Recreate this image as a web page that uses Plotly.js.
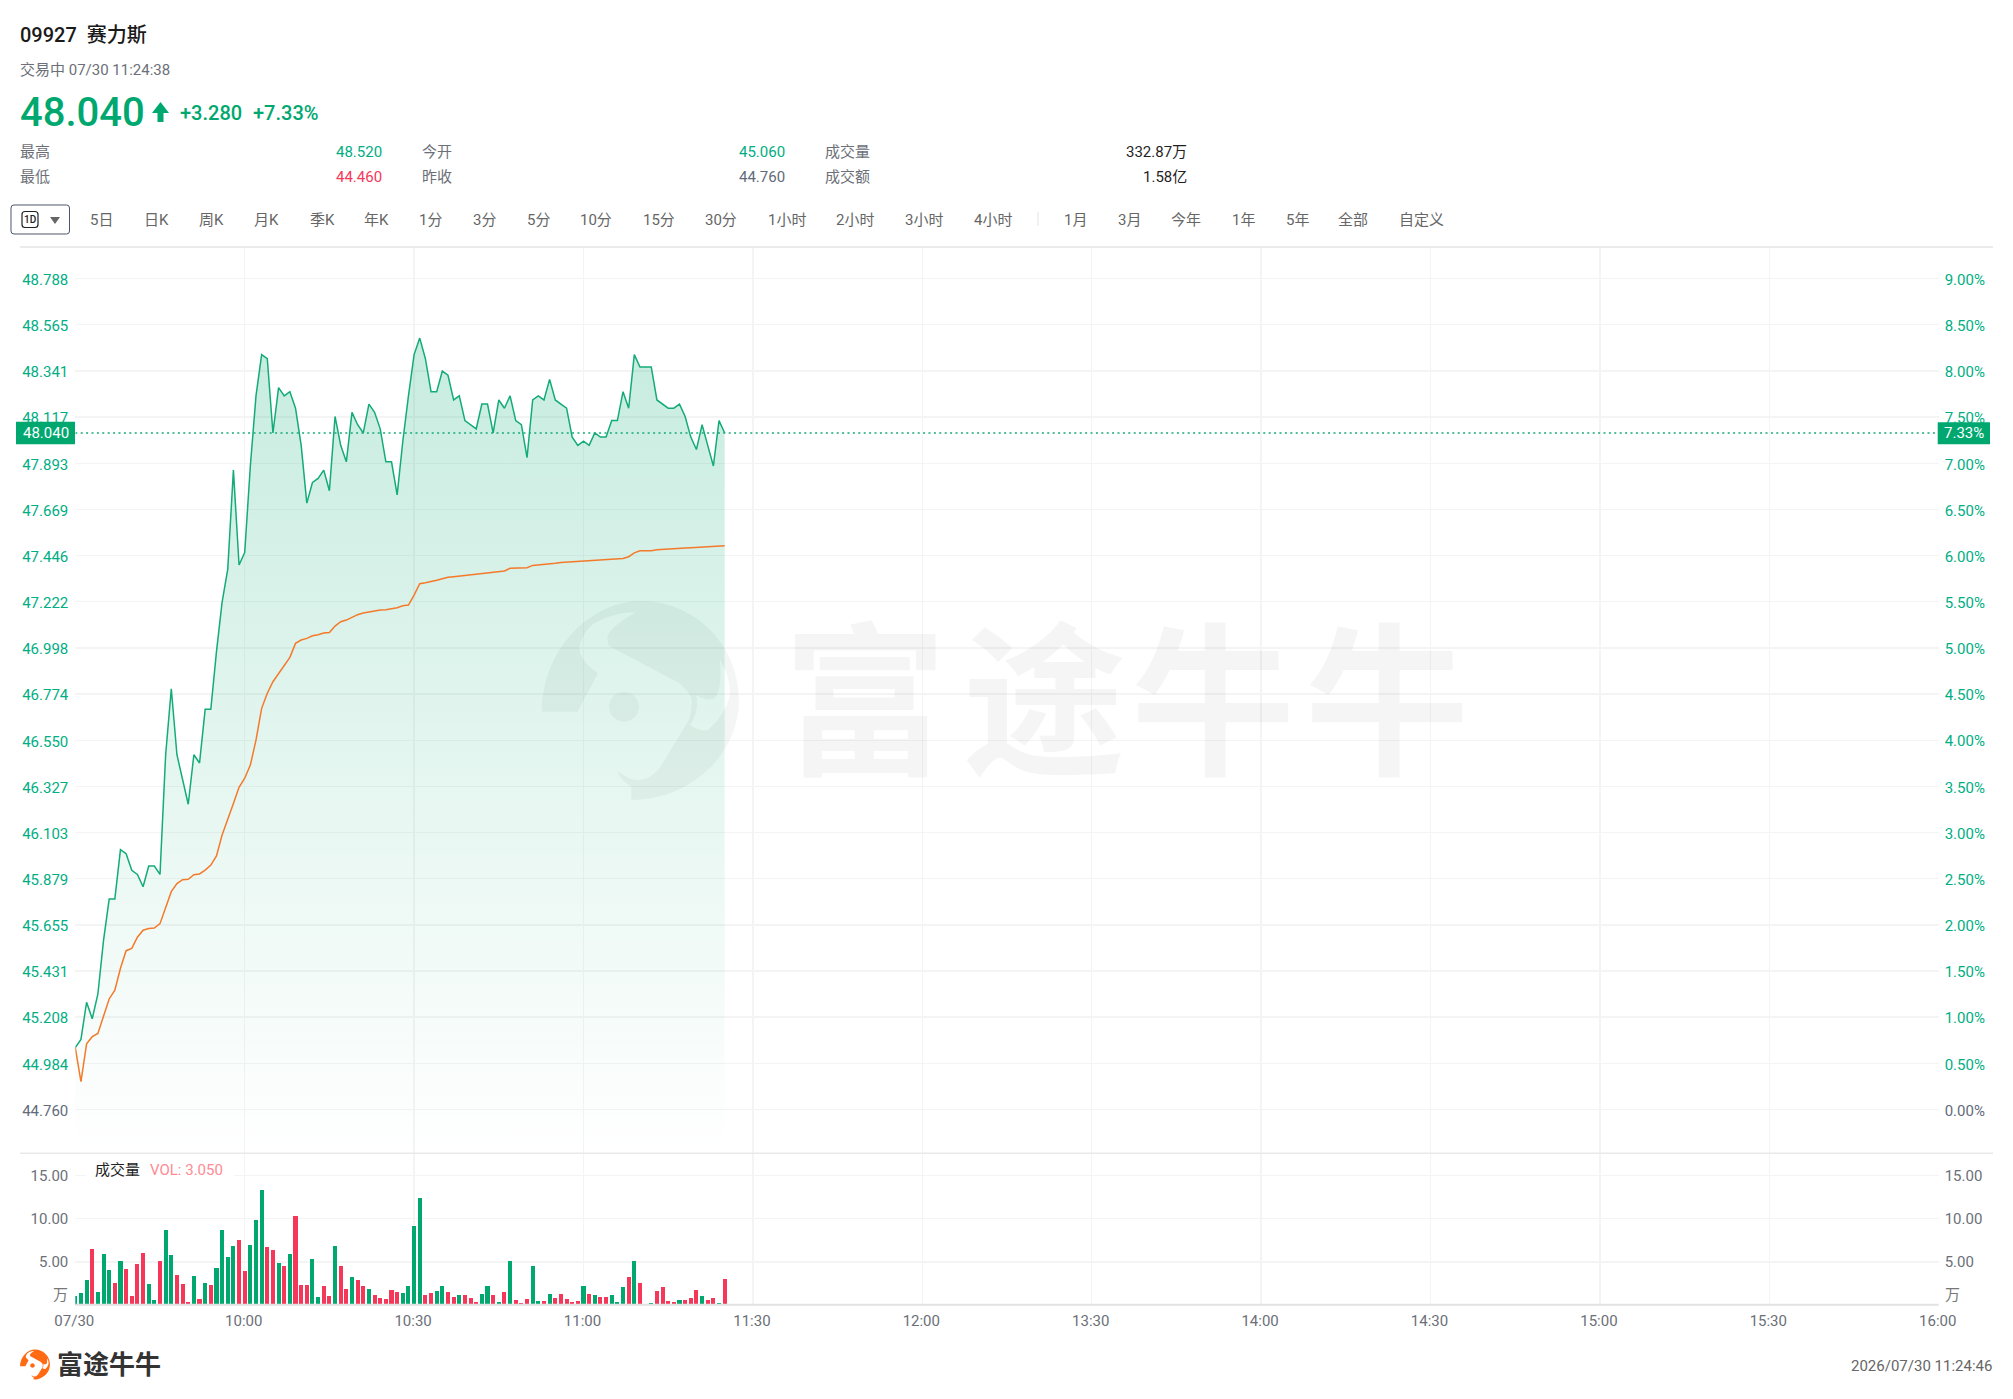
<!DOCTYPE html>
<html>
<head>
<meta charset="utf-8">
<title>09927 赛力斯</title>
<script src="https://cdn.plot.ly/plotly-3.0.1.min.js"></script>
<style>html,body{margin:0;padding:0;background:#fff}#chart{width:2013px;height:1399px}</style>
</head>
<body>
<div id="chart"></div>
<script>
const closePrices = [45.06,45.10,45.28,45.20,45.32,45.58,45.78,45.78,46.02,46.00,45.92,45.90,45.84,45.94,45.94,45.90,46.48,46.80,46.48,46.36,46.24,46.48,46.44,46.70,46.70,46.98,47.22,47.38,47.86,47.40,47.46,47.88,48.22,48.42,48.40,48.04,48.26,48.22,48.24,48.16,47.98,47.70,47.80,47.82,47.86,47.76,48.12,47.98,47.90,48.14,48.08,48.04,48.18,48.14,48.06,47.90,47.90,47.74,48.00,48.22,48.42,48.50,48.40,48.24,48.24,48.34,48.32,48.20,48.22,48.10,48.08,48.06,48.18,48.18,48.04,48.20,48.16,48.22,48.10,48.08,47.92,48.20,48.22,48.20,48.30,48.20,48.18,48.16,48.02,47.98,48.00,47.98,48.04,48.02,48.02,48.10,48.10,48.24,48.16,48.42,48.36,48.36,48.36,48.20,48.18,48.16,48.16,48.18,48.12,48.02,47.96,48.08,47.98,47.88,48.10,48.04];
const avgPrices = [45.06,44.895,45.078,45.113,45.129,45.21,45.296,45.339,45.445,45.53,45.541,45.595,45.629,45.637,45.64,45.661,45.735,45.816,45.855,45.874,45.876,45.898,45.902,45.921,45.945,45.989,46.091,46.163,46.244,46.322,46.366,46.43,46.551,46.705,46.778,46.834,46.875,46.91,46.952,47.02,47.036,47.044,47.057,47.062,47.07,47.073,47.104,47.125,47.133,47.146,47.159,47.167,47.173,47.178,47.182,47.183,47.188,47.193,47.202,47.206,47.254,47.309,47.314,47.319,47.326,47.333,47.34,47.343,47.346,47.35,47.351,47.353,47.356,47.361,47.364,47.366,47.371,47.384,47.385,47.385,47.387,47.398,47.40,47.403,47.405,47.408,47.412,47.414,47.415,47.417,47.419,47.421,47.423,47.424,47.426,47.427,47.43,47.432,47.44,47.459,47.469,47.469,47.469,47.474,47.475,47.477,47.479,47.481,47.482,47.484,47.485,47.487,47.488,47.489,47.491,47.493];
const volumes = [1.04,1.43,2.9,6.45,1.54,5.95,4.0,2.5,5.05,4.13,1.04,4.7,6.02,2.4,0.58,5.13,8.65,5.75,3.5,2.4,0.35,3.35,0.66,2.5,2.35,4.25,8.65,5.5,6.8,7.57,3.94,6.9,9.8,13.3,6.68,6.33,4.9,4.5,5.87,10.27,2.35,2.35,5.3,0.93,2.16,1.08,6.8,4.48,1.9,3.24,2.86,2.16,1.85,1.16,0.81,0.66,1.74,1.54,1.35,2.2,9.15,12.36,1.16,1.43,1.62,2.2,1.47,0.97,1.16,1.16,0.85,0.31,1.27,2.16,1.12,0.35,1.5,5.1,0.54,0.23,0.66,4.5,0.42,0.42,1.23,0.81,1.31,0.7,0.39,0.46,2.16,1.23,1.12,0.93,0.89,1.16,0.31,2.08,3.2,5.1,2.55,0.12,0.19,1.62,2.05,0.46,0.39,0.54,0.62,0.77,1.74,1.04,0.58,0.81,0.19,3.05];
// g = green bar, r = red bar
const barSideList = ["g","g","g","r","g","g","g","r","g","r","r","r","r","g","g","r","g","g","r","r","r","g","r","g","r","g","g","g","g","r","r","g","g","g","r","r","g","r","g","r","r","r","g","g","r","r","g","r","r","g","r","r","g","r","r","r","r","r","g","g","g","g","r","r","g","g","r","r","g","r","r","r","g","g","r","g","r","g","r","r","r","g","g","r","g","r","r","r","r","r","g","r","g","r","r","g","g","g","r","g","r","g","g","r","r","r","r","g","r","r","r","g","r","r","g","r"];

const prevClose = 44.76;
const lastPrice = 48.04;
const lastPct = 7.33;
const priceTicks = [44.760,44.984,45.208,45.431,45.655,45.879,46.103,46.327,46.550,46.774,46.998,47.222,47.446,47.669,47.893,48.117,48.341,48.565,48.788];
const pctTicks = [0,0.5,1,1.5,2,2.5,3,3.5,4,4.5,5,5.5,6,6.5,7,7.5,8,8.5,9];
const volumeTicks = [5,10,15];
const timeTickPositions = [0,30,60,90,120,150,180,210,240,270,300,330];
const timeTickLabels = ["07/30","10:00","10:30","11:00","11:30","12:00","13:30","14:00","14:30","15:00","15:30","16:00"];
const toolbarLabels = ["5日","日K","周K","月K","季K","年K","1分","3分","5分","10分","15分","30分","1小时","2小时","3小时","4小时","1月","3月","今年","1年","5年","全部","自定义"];
const toolbarCenters = [101,156,211,266.6,322,376,430.5,484,538,596,659,721,787,855,924,992.5,1075,1129,1186,1243,1297,1353,1421];

const W = 2013, H = 1399;
const GREEN = "#00a870", TEAL = "#00ae84", RED = "#f5375a", GREY = "#6c6f78", FONT = "Roboto, 'Noto Sans CJK SC', sans-serif";
const plotL = 75.3, plotR = 1938.7, mainTop = 247, mainBot = 1153, volBot = 1305;
const pxPerPct = 92.32, zeroY = 1109.5, pxPerVol = 8.64;
const fx = p => p / W, fy = p => 1 - p / H;
const pctAt = y => (zeroY - y) / pxPerPct;
const pctToPrice = c => prevClose * (1 + c / 100);

const minuteIndex = closePrices.map((_, i) => i);

const anns = [];
function txt(x, y, text, o = {}) {
  const left = !o.anchor || o.anchor === "left";
  anns.push({xref:"paper", yref:"paper", x:fx(left ? x - 1 : x), y:fy(y), text, showarrow:false,
    xanchor:o.anchor || "left", yanchor:"middle", borderpad:0,
    font:{family:FONT, size:o.size || 15, color:o.color || GREY, weight:o.weight || 400}});
}
const shapes = [];
function rect(x0, y0, x1, y1, fill, line, lw, layer) {
  shapes.push({type:"rect", xref:"paper", yref:"paper", x0:fx(x0), x1:fx(x1), y0:fy(y0), y1:fy(y1),
    fillcolor:fill || "rgba(0,0,0,0)", line:{color:line || "rgba(0,0,0,0)", width:lw || 0}, layer:layer || "above"});
}
function pathShape(cmds, fill, line, lw) {
  const d = cmds.map(c => c[0] + c.slice(1).map((v, i) => (i % 2 === 0 ? fx(v) : fy(v)).toFixed(6)).join(" ")).join(" ");
  shapes.push({type:"path", xref:"paper", yref:"paper", path:d, fillcolor:fill || "rgba(0,0,0,0)",
    line:{color:line || "rgba(0,0,0,0)", width:lw || 0}, layer:"above"});
}
function roundRect(x0, y0, x1, y1, r, fill, line, lw) {
  pathShape([["M",x0+r,y0],["L",x1-r,y0],["Q",x1,y0,x1,y0+r],["L",x1,y1-r],["Q",x1,y1,x1-r,y1],["L",x0+r,y1],["Q",x0,y1,x0,y1-r],["L",x0,y0+r],["Q",x0,y0,x0+r,y0],["Z"]], fill, line, lw);
}
// brand mark drawn around centre (640.5,700.5), radius ~99 at scale 1
function logo(cx, cy, s, fill) {
  const T = (c) => { const o=[c[0]]; for (let i=1;i<c.length;i+=2){o.push(cx+(c[i]-640.5)*s, cy+(c[i+1]-700.5)*s);} return o; };
  const body = [["M",541.9,711.7],["L",577.5,711.7],["L",598,673.3],["Q",579,660,579.4,646.7],["Q",585,626,601,620],["Q",618,612,635.6,612.3],["Q",605,630,607.5,640],["Q",608,646,610.6,646.7],["L",679.4,683.3],["Q",693,695,691.9,703.3],["Q",691,714,688.8,720],["L",660.6,766.7],["Q",650,780,638.8,780],["Q",628,780,616.9,770],["Q",620,780,631.3,786.7],["L",631.3,800],["C",690,800,739,755,739,700],["C",739,645,695,601,641,601],["C",590,601,542,650,541.9,711.7],["Z"]];
  const hole = [["M",720,660],["Q",722,690,715,698],["Q",708,702,696,695],["Q",700,710,690,725],["Q",700,732,708,730],["Q",725,715,730,695],["Q",730,675,720,660],["Z"]];
  const eye = [["M",609,706.7],["C",609,698.4,615.7,692,624,692],["C",632.3,692,639,698.4,639,706.7],["C",639,715,632.3,721.5,624,721.5],["C",615.7,721.5,609,715,609,706.7],["Z"]];
  pathShape(body.concat(hole, eye).map(T), fill);
}
// watermark
logo(640.5, 700.5, 1, "rgba(0,40,30,0.045)");
[["富",865],["途",1044],["牛",1213],["牛",1387]].forEach(w => txt(w[1], 706, w[0], {size:164, color:"rgba(0,0,0,0.04)", anchor:"center", weight:700}));

// header
txt(20, 35, "09927  赛力斯", {size:20, color:"#1a1a1a", weight:500});
txt(20, 70, "交易中 07/30 11:24:38", {size:15});
txt(20, 113, "48.040", {size:40, color:GREEN, weight:500});
pathShape([["M",160.5,102],["L",169,113],["L",163.5,113],["L",163.5,122],["L",157.5,122],["L",157.5,113],["L",152,113],["Z"]], GREEN);
txt(180, 113, "+3.280", {size:20, color:GREEN, weight:500});
txt(253, 113, "+7.33%", {size:20, color:GREEN, weight:500});
const rowA = 151.7, rowB = 176.7;
txt(20, rowA, "最高"); txt(20, rowB, "最低");
txt(382.6, rowA, "48.520", {anchor:"right", color:TEAL});
txt(382.6, rowB, "44.460", {anchor:"right", color:RED});
txt(422, rowA, "今开"); txt(422, rowB, "昨收");
txt(785.7, rowA, "45.060", {anchor:"right", color:TEAL});
txt(785.7, rowB, "44.760", {anchor:"right", color:"#5f6b7a"});
txt(824.6, rowA, "成交量"); txt(824.6, rowB, "成交额");
txt(1188, rowA, "332.87万", {anchor:"right", color:"#1f1f1f"});
txt(1188, rowB, "1.58亿", {anchor:"right", color:"#1f1f1f"});

// toolbar
roundRect(11, 205, 69.5, 234, 3, "#fff", "#4a5568", 1);
roundRect(22, 211.5, 38, 227.5, 3, "#fff", "#222", 1.2);
txt(30, 219.5, "1D", {size:10, color:"#222", anchor:"center", weight:500});
pathShape([["M",50,217],["L",60,217],["L",55,224],["Z"]], "#666");
toolbarLabels.forEach((t, i) => txt(toolbarCenters[i], 220, t, {anchor:"center", color:"#666"}));
rect(1037.5, 212, 1038.5, 226, "#e4e4e4");

// rules
rect(20, 246, 1993, 248, "#ebebeb");
rect(20, 1152.5, 1993, 1154, "#e9e9e9");
rect(plotL, 1303.8, plotR, 1305.7, "#e2e2e2");

// last price tags
rect(16, 421.7, 75, 444.3, GREEN);
txt(45.5, 433.3, "48.040", {anchor:"center", color:"#fff"});
rect(1937.7, 422.3, 1990, 444.3, GREEN);
txt(1964, 433.3, lastPct.toFixed(2) + "%", {anchor:"center", color:"#fff"});

// volume pane texts
rect(86, 1158, 234, 1180, "#fff");
txt(117, 1170, "成交量", {anchor:"center", color:"#222"});
txt(150, 1170, "VOL: 3.050", {color:"#ff8a94"});
txt(68.5, 1295, "万", {anchor:"right", color:"#777"});
txt(1945, 1295, "万", {color:"#777"});

// footer
logo(35, 1364.5, 0.152, "#ff6a13");
txt(57, 1365, "富途牛牛", {size:26, color:"#333", weight:700});
txt(1993, 1366, "2026/07/30 11:24:46", {anchor:"right", color:"#666"});

const colored = (s, first) => first ? '<span style="color:#5f6b7a">' + s + '</span>' : s;
const xDomain = [fx(plotL), fx(plotR)];
const mainDomain = [fy(mainBot), fy(mainTop)];
const volDomain = [fy(volBot), fy(mainBot)];
const gridC = "#f4f4f4";
const pctRange = [pctAt(mainBot), pctAt(mainTop)];

const traces = [
  {type:"scatter", mode:"lines", x:minuteIndex, y:closePrices, xaxis:"x", yaxis:"y",
   line:{color:"#13ab78", width:1.5, shape:"linear"}, fill:"tozeroy",
   fillgradient:{type:"vertical", start:pctToPrice(pctRange[0]), stop:48.5,
     colorscale:[[0,"rgba(0,168,112,0)"],[1,"rgba(0,168,112,0.22)"]]}, hoverinfo:"skip"},
  {type:"scatter", mode:"lines", x:minuteIndex, y:avgPrices, xaxis:"x", yaxis:"y",
   line:{color:"#f47a2a", width:1.5}, hoverinfo:"skip"},
  {type:"scatter", mode:"lines", x:[timeTickPositions[0], timeTickPositions[timeTickPositions.length-1]], y:[lastPrice, lastPrice], xaxis:"x", yaxis:"y",
   line:{color:"#13ab78", width:1.5, dash:"2px,3.4px"}, hoverinfo:"skip"},
  {type:"scatter", mode:"lines", x:[0,330], y:[0,0], xaxis:"x", yaxis:"y2", opacity:0, hoverinfo:"skip", showlegend:false},
  {type:"bar", x:minuteIndex, y:volumes, xaxis:"x2", yaxis:"y3", width:0.72,
   marker:{color:barSideList.map(s => s === "g" ? GREEN : RED), line:{width:0}}, hoverinfo:"skip"},
  {type:"scatter", mode:"lines", x:[0,330], y:[0,0], xaxis:"x2", yaxis:"y4", opacity:0, hoverinfo:"skip", showlegend:false}
];

const tickFont = {family:FONT, size:15, color:TEAL};
const layout = {
  width:W, height:H, margin:{l:0,r:0,t:0,b:0,pad:0}, paper_bgcolor:"#fff", plot_bgcolor:"rgba(0,0,0,0)",
  showlegend:false, bargap:0, barmode:"overlay", font:{family:FONT},
  xaxis:{domain:xDomain, anchor:"y", range:[0,330], tickmode:"array", tickvals:timeTickPositions, showticklabels:false, ticks:"",
    showgrid:true, gridcolor:gridC, gridwidth:1.5, zeroline:false, showline:false},
  xaxis2:{domain:xDomain, anchor:"y3", range:[0,330], tickmode:"array", tickvals:timeTickPositions, ticktext:timeTickLabels, ticks:"",
    showgrid:true, gridcolor:gridC, gridwidth:1.5, zeroline:false, showline:false,
    tickfont:{family:FONT, size:15, color:"#6c6f78"}, ticklabelstandoff:5, ticklabelshift:-1},
  yaxis:{domain:mainDomain, anchor:"x", side:"left", range:[pctToPrice(pctRange[0]), pctToPrice(pctRange[1])], tickmode:"array",
    tickvals:priceTicks, ticktext:priceTicks.map((v,i)=>colored(v.toFixed(3), i===0)), ticks:"", tickfont:tickFont, ticklabelstandoff:6, ticklabelshift:1,
    showgrid:true, gridcolor:gridC, gridwidth:1.5, zeroline:false, showline:false},
  yaxis2:{domain:mainDomain, anchor:"x", overlaying:"y", side:"right", range:pctRange, tickmode:"array",
    tickvals:pctTicks, ticktext:pctTicks.map((v,i)=>colored(v.toFixed(2)+"%", i===0)), ticks:"", tickfont:tickFont, ticklabelstandoff:5, ticklabelshift:1,
    showgrid:false, zeroline:false, showline:false},
  yaxis3:{domain:volDomain, anchor:"x2", side:"left", range:[0,(volBot-mainBot)/pxPerVol], tickmode:"array",
    tickvals:volumeTicks, ticktext:volumeTicks.map(v=>v.toFixed(2)), ticks:"", tickfont:{family:FONT,size:15,color:"#6c6f78"}, ticklabelstandoff:6,
    showgrid:true, gridcolor:gridC, gridwidth:1.5, zeroline:false, showline:false},
  yaxis4:{domain:volDomain, anchor:"x2", overlaying:"y3", side:"right", range:[0,(volBot-mainBot)/pxPerVol], tickmode:"array",
    tickvals:volumeTicks, ticktext:volumeTicks.map(v=>v.toFixed(2)), ticks:"", tickfont:{family:FONT,size:15,color:"#6c6f78"}, ticklabelstandoff:5,
    showgrid:false, zeroline:false, showline:false},
  annotations:anns, shapes:shapes
};
Plotly.newPlot("chart", traces, layout, {staticPlot:true, displayModeBar:false});
</script>
</body>
</html>
